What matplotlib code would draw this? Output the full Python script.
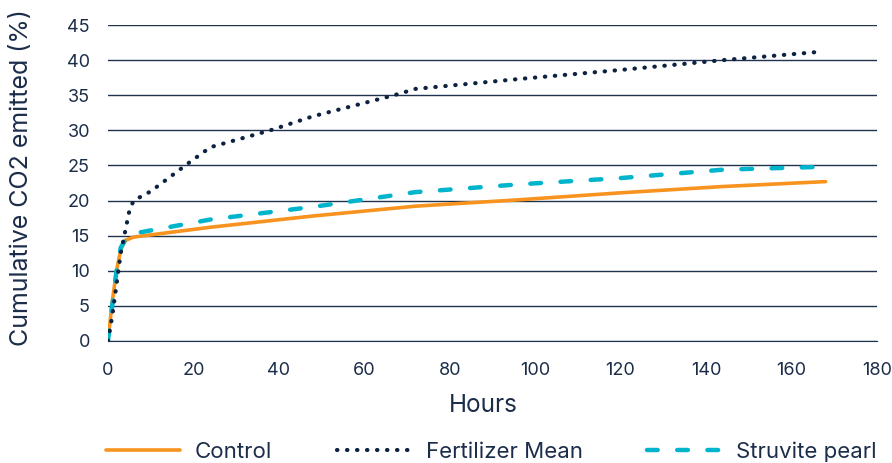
import matplotlib
matplotlib.use("Agg")
import matplotlib.pyplot as plt

plt.rcParams['font.family'] = ['Inter', 'DejaVu Sans']

hours_control = [0, 1, 2, 3, 4, 6, 24, 48, 72, 96, 120, 144, 168]
control = [0, 5.5, 10, 13, 14.3, 14.8, 16.2, 17.8, 19.2, 20.1, 21.1, 22.0, 22.7]

hours_fert = [0, 1, 2, 3, 4, 5, 6, 10, 19, 24, 38, 48, 67, 72, 96, 120, 144, 167]
fert = [0, 3.5, 8, 12.5, 15.5, 18.5, 20.0, 21.3, 25.4, 27.6, 30.0, 32.0, 35.0, 35.9, 37.3, 38.6, 40.0, 41.2]

hours_struv = [0, 1, 2, 3, 4, 6, 24, 48, 72, 96, 120, 144, 167]
struv = [0, 5, 10, 13.3, 14.3, 15.3, 17.3, 19.1, 21.2, 22.3, 23.2, 24.4, 24.8]

xticks = list(range(0, 181, 20))
yticks = list(range(0, 46, 5))

text_color = '#1c2d4a'
grid_color = '#1f3350'

fig = plt.figure(figsize=(8.92, 4.63), dpi=100)
ax = fig.add_axes([0.121, 0.2635, 0.862, 0.6825])

ax.plot(hours_control, control, color='#F7931E', lw=2.6, label='Control', solid_capstyle='round', zorder=3)
ax.plot(hours_fert, fert, color='#0d2240', lw=3, linestyle=(0, (0.1, 2.3)), dash_capstyle='round',
        label='Fertilizer Mean', zorder=4)
ax.plot(hours_struv, struv, color='#00B4CC', lw=3.2, linestyle=(0, (2.4, 4.4)), dash_capstyle='round',
        label='Struvite pearl', zorder=3)

ax.set_xlim(0, 180)
ax.set_ylim(0, 45)
ax.set_xticks(xticks)
ax.set_yticks(yticks)
ax.grid(axis='y', color=grid_color, lw=1)
ax.set_axisbelow(True)
for s in ['top', 'right', 'left']:
    ax.spines[s].set_visible(False)
ax.spines['bottom'].set_color(grid_color)
ax.tick_params(axis='both', length=0, labelsize=13, colors=text_color)
ax.tick_params(axis='x', pad=15)
ax.tick_params(axis='y', pad=13)

ax.set_xlabel('Hours', fontsize=17.5, color=text_color)
ax.xaxis.set_label_coords(0.4876, -0.168)
ax.set_ylabel('Cumulative CO2 emitted (%)', fontsize=18, color=text_color)
ax.yaxis.set_label_coords(-0.097, 0.517)

leg = fig.legend(loc='center', bbox_to_anchor=(0.551, 0.024), ncol=3, frameon=False,
                 fontsize=16, handlelength=3.3, columnspacing=2.9, handletextpad=0.7)
for t in leg.get_texts():
    t.set_color(text_color)

fig.savefig('out.png', dpi=100)
